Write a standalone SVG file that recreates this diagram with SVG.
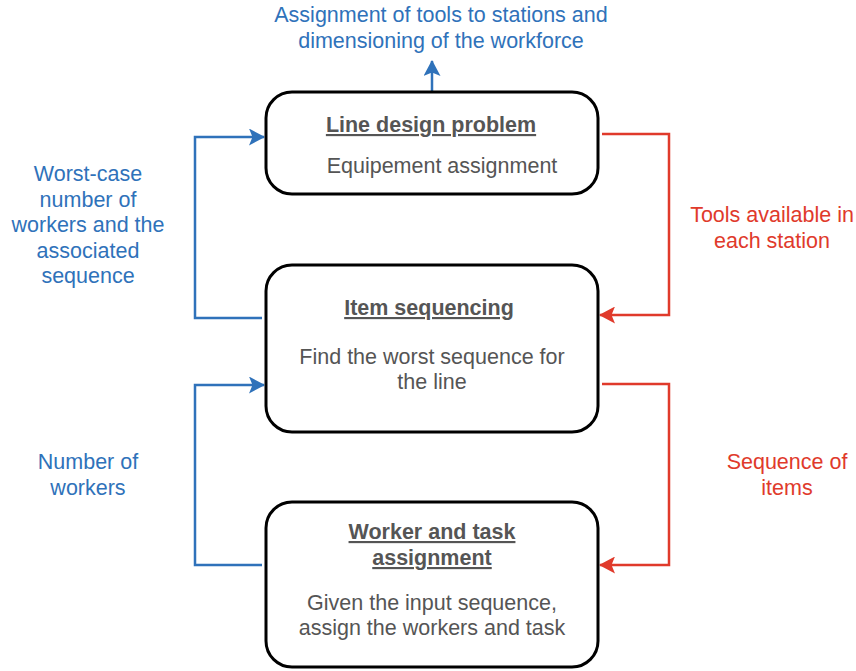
<svg xmlns="http://www.w3.org/2000/svg" width="856" height="671" viewBox="0 0 856 671">
<style>
.box{fill:#fff;stroke:#000;stroke-width:3}
.t{font-family:"Liberation Sans",Arial,sans-serif;font-size:21.5px;fill:#555;text-anchor:middle}
.h{font-weight:bold;text-decoration:underline}
.bl{font-family:"Liberation Sans",Arial,sans-serif;font-size:21.5px;fill:#2f72ba;text-anchor:middle}
.rd{font-family:"Liberation Sans",Arial,sans-serif;font-size:21.5px;fill:#e03a2b;text-anchor:middle}
.cb{fill:none;stroke:#2f72ba;stroke-width:2.5}
.cr{fill:none;stroke:#e03a2b;stroke-width:2.5}
</style>
<defs>
<marker id="ab" viewBox="0 0 16 17" refX="15" refY="8.5" markerWidth="16" markerHeight="17" markerUnits="userSpaceOnUse" orient="auto">
<path d="M0,0 L16,8.5 L0,17 L3.5,8.5 Z" fill="#2f72ba"/>
</marker>
<marker id="ar" viewBox="0 0 16 17" refX="15" refY="8.5" markerWidth="16" markerHeight="17" markerUnits="userSpaceOnUse" orient="auto">
<path d="M0,0 L16,8.5 L0,17 L3.5,8.5 Z" fill="#e03a2b"/>
</marker>
</defs>
<g id="connectors">
<path class="cb" d="M432,92 V61" marker-end="url(#ab)"/>
<path class="cb" d="M262,318 H195 V137 H264" marker-end="url(#ab)"/>
<path class="cb" d="M262,565 H195 V385 H264" marker-end="url(#ab)"/>
<path class="cr" d="M602,134 H669 V315 H600" marker-end="url(#ar)"/>
<path class="cr" d="M602,384 H669 V565 H600" marker-end="url(#ar)"/>
</g>
<g id="n1">
<rect class="box" x="266" y="92" width="332" height="102" rx="26"/>
<text class="t h" x="431" y="132">Line design problem</text>
<text class="t" x="442" y="173">Equipement assignment</text>
</g>
<g id="n2">
<rect class="box" x="266" y="265" width="332" height="167" rx="26"/>
<text class="t h" x="429" y="315">Item sequencing</text>
<text class="t" x="432" y="364">Find the worst sequence for</text>
<text class="t" x="432" y="389">the line</text>
</g>
<g id="n3">
<rect class="box" x="266" y="502" width="332" height="165" rx="26"/>
<text class="t h" x="432" y="539">Worker and task</text>
<text class="t h" x="432" y="565">assignment</text>
<text class="t" x="432" y="610">Given the input sequence,</text>
<text class="t" x="432" y="635">assign the workers and task</text>
</g>
<g id="labels">
<text class="bl" x="441" y="22">Assignment of tools to stations and</text>
<text class="bl" x="441" y="48">dimensioning of the workforce</text>
<text class="bl" x="88" y="181">Worst-case</text>
<text class="bl" x="88" y="207">number of</text>
<text class="bl" x="88" y="232">workers and the</text>
<text class="bl" x="88" y="258">associated</text>
<text class="bl" x="88" y="283">sequence</text>
<text class="bl" x="88" y="469">Number of</text>
<text class="bl" x="88" y="495">workers</text>
<text class="rd" x="772" y="222">Tools available in</text>
<text class="rd" x="772" y="248">each station</text>
<text class="rd" x="787" y="469">Sequence of</text>
<text class="rd" x="787" y="495">items</text>
</g>
</svg>
